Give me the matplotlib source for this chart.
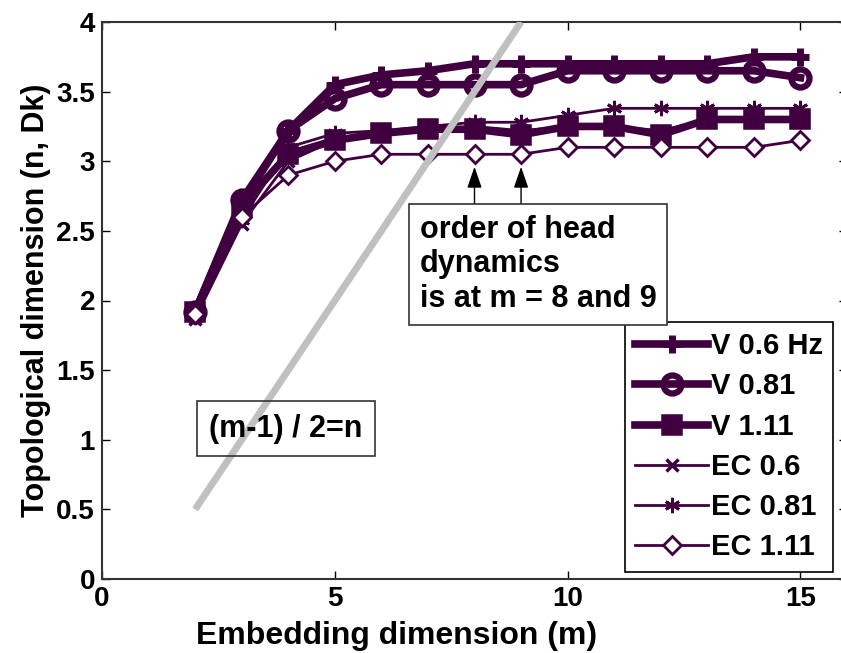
import matplotlib
matplotlib.use("Agg")
import matplotlib.pyplot as plt

plt.rcParams['font.family'] = ['Liberation Sans', 'DejaVu Sans']
plt.rcParams['font.weight'] = 'bold'

m = [2, 3, 4, 5, 6, 7, 8, 9, 10, 11, 12, 13, 14, 15]

v_06 = [1.92, 2.70, 3.22, 3.55, 3.62, 3.65, 3.70, 3.70, 3.70, 3.70, 3.70, 3.70, 3.75, 3.75]
v_081 = [1.92, 2.72, 3.22, 3.45, 3.55, 3.55, 3.55, 3.55, 3.65, 3.65, 3.65, 3.65, 3.65, 3.60]
v_111 = [1.92, 2.68, 3.05, 3.15, 3.20, 3.23, 3.23, 3.19, 3.25, 3.25, 3.19, 3.30, 3.30, 3.30]
ec_06 = [1.87, 2.55, 3.00, 3.15, 3.20, 3.22, 3.25, 3.22, 3.25, 3.25, 3.22, 3.30, 3.30, 3.30]
ec_081 = [1.88, 2.58, 3.10, 3.20, 3.22, 3.25, 3.28, 3.28, 3.33, 3.38, 3.38, 3.38, 3.38, 3.38]
ec_111 = [1.90, 2.60, 2.90, 3.00, 3.05, 3.05, 3.05, 3.05, 3.10, 3.10, 3.10, 3.10, 3.10, 3.15]

line_m = [2, 9]
line_n = [(x - 1) / 2 for x in line_m]

color = '#400040'

fig = plt.figure(figsize=(8.41, 6.53), dpi=100)
ax = fig.add_axes([102 / 841, 1 - 579 / 653, (847 - 102) / 841, (579 - 22) / 653])

ax.plot(line_m, line_n, color='#c0c0c0', lw=5, solid_capstyle='butt', zorder=6)

ax.plot(m, v_06, color=color, lw=5.5, marker='+', ms=13, mew=5, label='V 0.6 Hz', zorder=3)
ax.plot(m, v_081, color=color, lw=5.5, marker='o', ms=13, mew=4.5, mfc='none', label='V 0.81', zorder=3)
ax.plot(m, v_111, color=color, lw=5.5, marker='s', ms=11, mew=4, mfc=color, label='V 1.11', zorder=3)
ax.plot(m, ec_06, color=color, lw=2, marker='x', ms=8, mew=2.5, label='EC 0.6', zorder=4)
ax.plot(m, ec_081, color=color, lw=2, marker=(6, 2, 0), ms=11, mew=2, label='EC 0.81', zorder=4)
ax.plot(m, ec_111, color=color, lw=2, marker='D', ms=9, mew=2, mfc='white', label='EC 1.11', zorder=4)

ax.set_xlim(0, 16)
ax.set_ylim(0, 4)
ax.set_xticks([0, 5, 10, 15])
ax.set_yticks([0, 0.5, 1, 1.5, 2, 2.5, 3, 3.5, 4])
ax.set_yticklabels(['0', '0.5', '1', '1.5', '2', '2.5', '3', '3.5', '4'])
ax.tick_params(direction='in', top=True, right=True, labelsize=20, length=6, width=1, pad=5)
for lab in ax.get_xticklabels() + ax.get_yticklabels():
    lab.set_fontweight('bold')
for sp in ax.spines.values():
    sp.set_linewidth(1.5)
    sp.set_color('#333333')

ax.set_xlabel('Embedding dimension (m)', fontsize=23, fontweight='bold')
ax.xaxis.set_label_coords((397 - 102) / 745, (579 - 636) / 557)
ax.xaxis.label.set_va('center')
ax.set_ylabel('Topological dimension (n, Dk)', fontsize=22, fontweight='bold', labelpad=4)

ax.text(6.83, 2.26, 'order of head\ndynamics\nis at m = 8 and 9', fontsize=22, fontweight='bold',
        ha='left', va='center',
        bbox=dict(boxstyle='square,pad=0.35', fc='white', ec='#333333', lw=1.2),
        linespacing=1.2, zorder=7)
for xa in (8, 9):
    ax.annotate('', xy=(xa, 2.96), xytext=(xa, 2.68),
                arrowprops=dict(arrowstyle='-|>,head_length=1.3,head_width=0.45', color='black', lw=1,
                                shrinkA=0, shrinkB=0),
                zorder=6)
ax.text(2.3, 1.08, '(m-1) / 2=n', fontsize=22, fontweight='bold', ha='left', va='center',
        bbox=dict(boxstyle='square,pad=0.4', fc='none', ec='#333333', lw=1.2), zorder=7)

leg = ax.legend(loc='upper left', bbox_to_anchor=(625 / 841, 1 - 322 / 653),
                bbox_transform=fig.transFigure, fontsize=21, frameon=True, fancybox=False,
                edgecolor='black', handlelength=2.5, handletextpad=0.1, labelspacing=0.42,
                borderpad=0.35, borderaxespad=0, framealpha=1)
leg.get_frame().set_linewidth(1.2)
for t in leg.get_texts():
    t.set_fontweight('bold')

fig.savefig('out.png', dpi=100)
